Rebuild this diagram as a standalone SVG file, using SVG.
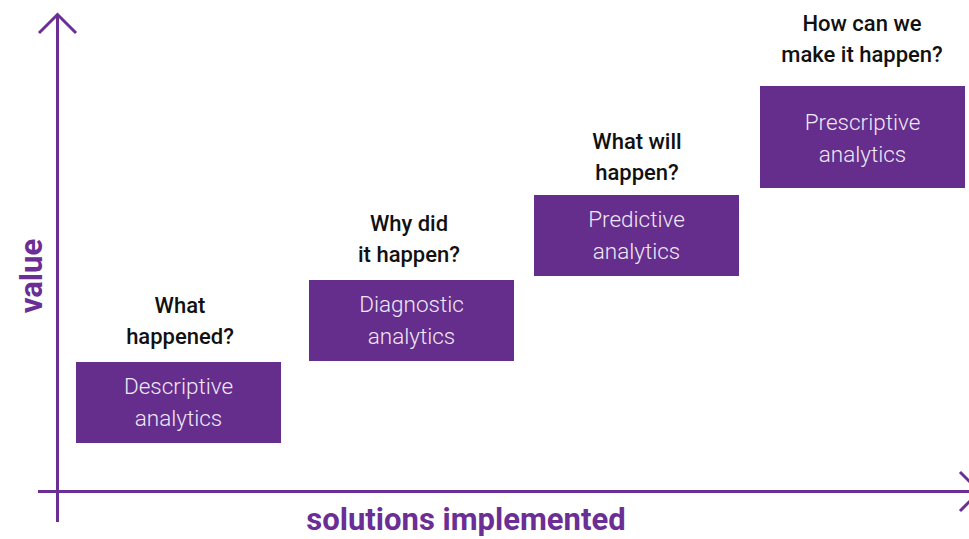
<svg xmlns="http://www.w3.org/2000/svg" width="969" height="539" viewBox="0 0 969 539">
<style>
.axis{stroke:#6a2e94;stroke-width:3;fill:none;stroke-linecap:butt}
.box{fill:#652d8c}
.bt{font-family:Roboto,"Liberation Sans",sans-serif;font-weight:300;font-size:22.5px;fill:#efe8f5;text-anchor:middle}
.lb{font-family:Roboto,"Liberation Sans",sans-serif;font-weight:500;font-size:22px;fill:#111;text-anchor:middle}
.ax{font-family:Roboto,"Liberation Sans",sans-serif;font-weight:700;font-size:31px;fill:#6a2e94;text-anchor:middle}
</style>
<rect width="969" height="539" fill="#fff"/>
<g id="connectors">
<path class="axis" d="M57.5 522 V15"/>
<path class="axis" d="M39 33 L57.5 14.5 L76 33"/>
<path class="axis" d="M38 491.5 H975"/>
<path class="axis" d="M960 472 L979.5 491.5 L960 511"/>
</g>
<g id="axis-y-label"><text class="ax" transform="translate(42 276) rotate(-90)">value</text></g>
<g id="axis-x-label"><text class="ax" x="466" y="530">solutions implemented</text></g>
<g id="descriptive">
<rect class="box" x="76" y="362" width="205" height="81"/>
<text class="bt" x="178.5" y="394">Descriptive</text>
<text class="bt" x="178.5" y="426">analytics</text>
<text class="lb" x="180" y="313">What</text>
<text class="lb" x="180" y="344">happened?</text>
</g>
<g id="diagnostic">
<rect class="box" x="309" y="280" width="205" height="81"/>
<text class="bt" x="411.5" y="312">Diagnostic</text>
<text class="bt" x="411.5" y="344">analytics</text>
<text class="lb" x="409" y="231">Why did</text>
<text class="lb" x="409" y="262">it happen?</text>
</g>
<g id="predictive">
<rect class="box" x="534" y="195" width="205" height="81"/>
<text class="bt" x="636.5" y="227">Predictive</text>
<text class="bt" x="636.5" y="259">analytics</text>
<text class="lb" x="637" y="149">What will</text>
<text class="lb" x="637" y="180">happen?</text>
</g>
<g id="prescriptive">
<rect class="box" x="760" y="86" width="205" height="102"/>
<text class="bt" x="862.5" y="130">Prescriptive</text>
<text class="bt" x="862.5" y="162">analytics</text>
<text class="lb" x="862" y="31">How can we</text>
<text class="lb" x="862" y="62">make it happen?</text>
</g>
</svg>
